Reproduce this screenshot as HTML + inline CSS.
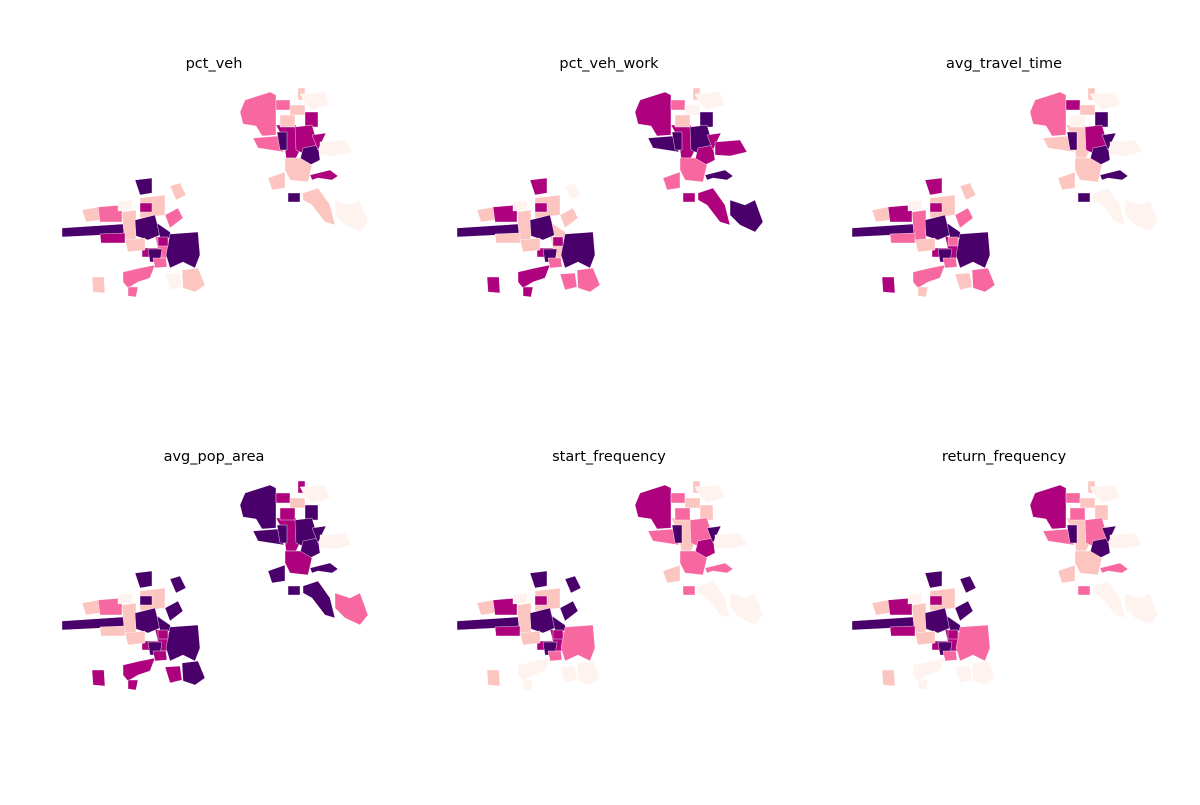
<!DOCTYPE html>
<html><head><meta charset="utf-8"><style>
body{margin:0;background:#fff;width:1200px;height:800px;overflow:hidden}
svg text{font-family:"DejaVu Sans","Liberation Sans",sans-serif;font-size:14.5px;fill:#000}
</style></head><body>
<svg id="chart" width="1200" height="800"></svg>
<script>
const palette = ["#fff3f0","#fcc5c0","#f768a1","#ae017e","#49006a"];
const titles = ["pct_veh","pct_veh_work","avg_travel_time","avg_pop_area","start_frequency","return_frequency"];
const regionNames = ["nw-blob","wedge","dark-col","grid-a","grid-b","grid-c","grid-d","grid-e","mag-mid","dark-block","mag-tri","east-light","pink-low","squiggle","dark-sq","tail-pink","tail-light","wisp","top-light",
"bar","top-dark","boxes-left","boxes-mid","mag-bar","dark-center","dark-wedge","big-dark","mag1","mag2","dark2","pink-s","diag","diag-tail","r-top","r-mid","br-pink","br-light","bl-patch","tl-light","mid-light","small-mag","between","right-fill","left-fill","center-fill"];
const shapes = [
"245,100 270,92 276,95 276,135 262,136 256,126 243,124 240,112",
"253,138 278,136 284,152 258,148",
"277,132 287,132 287,150 280,150",
"276,100 290,100 290,110 276,110",
"290,105 305,105 305,115 290,115",
"298,88 305,88 305,100 298,100",
"280,115 295,115 295,127 280,127",
"305,112 318,112 318,127 305,127",
"295,127 312,125 318,145 313,158 296,150",
"303,148 318,145 320,160 310,165 300,160",
"312,135 326,133 318,150",
"320,142 345,140 352,152 335,156 320,155",
"285,158 300,158 312,165 308,182 290,180 285,170",
"310,175 322,172 330,170 338,176 332,180 318,178 312,180",
"288,193 300,193 300,202 288,202",
"303,193 318,188 330,205 335,225 325,222 312,205 303,200",
"335,200 350,205 360,200 368,222 360,232 345,225 335,215",
"268,178 285,172 285,188 272,190",
"300,94 325,92 330,105 312,110 305,103",
"62,228 123,224 124,234 62,237",
"135,180 152,178 152,193 140,195",
"82,210 98,207 100,220 86,222",
"98,207 122,205 122,222 100,222",
"100,234 125,233 125,243 101,243",
"135,220 155,215 160,235 148,240 136,236",
"157,223 170,232 172,238 160,238",
"170,234 198,232 200,255 195,268 183,262 170,268 166,255",
"158,237 168,237 168,246 158,246",
"142,248 158,248 158,257 142,257",
"148,249 162,249 160,262 150,262",
"153,258 166,258 167,267 155,268",
"123,272 140,268 155,265 150,278 138,282 128,288 123,282",
"128,287 138,287 136,297 128,296",
"170,186 180,183 186,195 176,200",
"165,215 178,208 183,218 170,228",
"182,270 198,268 205,285 195,292 183,288",
"165,274 180,273 182,287 170,290",
"92,277 104,277 105,293 93,292",
"118,202 132,200 132,210 118,211",
"140,198 165,195 165,215 140,218",
"140,203 152,203 152,212 140,212",
"125,240 145,238 145,250 128,252",
"276,125 296,125 300,150 296,158 286,158 284,140",
"122,212 136,210 136,240 124,240",
"155,236 172,240 170,258 160,258"];
const cls1 = [2,2,4,2,1,1,1,3,3,4,3,0,1,3,4,1,0,1,0, 4,4,1,2,3,4,4,4,3,3,4,2,2,2,1,2,1,0,1,0,1,3,1,3,1,2];
const cls2 = [3,4,4,2,0,1,1,4,4,3,3,3,2,4,3,3,4,2,0, 4,3,1,3,1,4,1,4,3,3,4,2,3,3,0,1,2,2,3,0,1,3,1,3,1,1];
const cls3 = [2,1,4,3,1,1,0,4,3,4,4,0,1,4,4,0,0,1,0, 4,3,1,3,2,4,4,4,2,3,4,2,2,1,1,2,2,1,3,0,1,3,1,1,2,3];
const cls4 = [4,4,4,3,1,3,3,4,4,4,4,0,3,4,4,4,2,4,0, 4,4,1,2,1,4,4,4,3,3,4,3,3,3,4,4,4,3,3,0,1,4,1,3,1,3];
const cls5 = [3,2,4,2,1,1,2,1,2,3,4,0,2,2,2,0,0,1,0, 4,4,1,3,3,4,4,2,3,3,4,2,0,0,4,4,0,0,1,0,1,3,1,1,1,3];
const cls6 = [3,2,4,2,1,1,2,1,2,4,4,0,1,2,2,0,0,1,0, 4,4,1,3,3,4,4,2,3,3,4,2,0,0,4,4,0,0,1,0,1,3,1,1,1,3];
const classes = [cls1,cls2,cls3,cls4,cls5,cls6];
const svg = document.getElementById('chart');
const NS = 'http://www.w3.org/2000/svg';
const firstDrawn = [39,42,43,44];
for (let p = 0; p < 6; p++) {
  const dx = (p % 3) * 395, dy = Math.floor(p / 3) * 393;
  const g = document.createElementNS(NS, 'g');
  
  
  g.setAttribute('transform', 'translate(' + dx + ',' + dy + ')');
  svg.appendChild(g);
  const t = document.createElementNS(NS, 'text');
  
  
  t.setAttribute('x', 214); t.setAttribute('y', 68);
  t.setAttribute('text-anchor', 'middle');
  t.textContent = titles[p];
  g.appendChild(t);
  const order = firstDrawn.concat(shapes.map((s, i) => i).filter(i => firstDrawn.indexOf(i) < 0));
  order.forEach(i => {
    const poly = document.createElementNS(NS, 'polygon');
    
    
    poly.setAttribute('points', shapes[i]);
    poly.setAttribute('fill', palette[classes[p][i]]);
    poly.setAttribute('stroke', '#fff');
    poly.setAttribute('stroke-width', '0.4');
    g.appendChild(poly);
  });
}
</script>
</body></html>
